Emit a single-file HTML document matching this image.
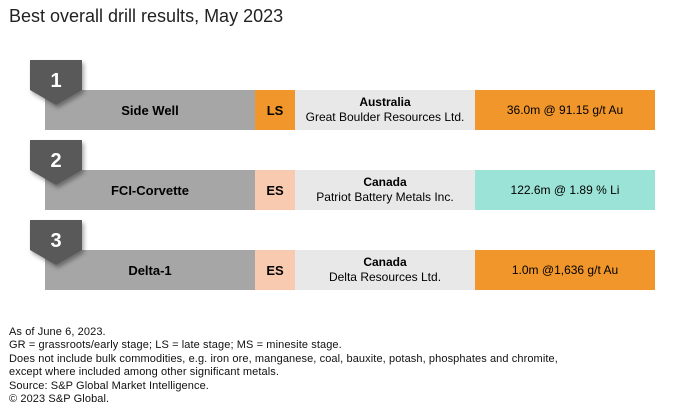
<!DOCTYPE html>
<html><head><meta charset="utf-8"><style>
body{margin:0;width:685px;height:415px;background:#fff;font-family:"Liberation Sans",sans-serif;position:relative;overflow:hidden;color:#000}
.t{position:absolute;left:9px;top:6px;font-size:18px;color:#222}
.bar{position:absolute;height:40px;display:flex;align-items:center;justify-content:center;text-align:center;font-size:12px;line-height:15px}
.badge{position:absolute;left:30px;width:52px;height:46px}
.foot{position:absolute;left:9px;top:326px;font-size:11px;line-height:13.4px;color:#111;white-space:nowrap;letter-spacing:0.1px}
</style></head><body>
<div class="t">Best overall drill results, May 2023</div>
<div id="rows"></div>
<div class="foot">As of June 6, 2023.<br>GR = grassroots/early stage; LS = late stage; MS = minesite stage.<br>Does not include bulk commodities, e.g. iron ore, manganese, coal, bauxite, potash, phosphates and chromite,<br>except where included among other significant metals.<br>Source: S&amp;P Global Market Intelligence.<br>© 2023 S&amp;P Global.</div>
<script>
const ranks=["1","2","3"];
const projects=["Side Well","FCI-Corvette","Delta-1"];
const stages=["LS","ES","ES"];
const countries=["Australia","Canada","Canada"];
const companies=["Great Boulder Resources Ltd.","Patriot Battery Metals Inc.","Delta Resources Ltd."];
const results=["36.0m @ 91.15 g/t Au","122.6m @ 1.89 % Li","1.0m @1,636 g/t Au"];
const resultColors=["#f0962a","#9be3d6","#f0962a"];
const stageColor={LS:"#f0962a",ES:"#f8cbb0"};
const root=document.getElementById('rows');
function mk(cls,x,y,w,bg,html){const d=document.createElement('div');d.className=cls;d.style.left=x+'px';d.style.top=y+'px';d.style.width=w+'px';d.style.background=bg;d.innerHTML=html;root.appendChild(d);return d;}
ranks.forEach((r,i)=>{
 const y=90+i*80;
 let e=mk('bar',45,y,210,'#a6a6a6','<b style="font-size:13px">'+projects[i]+'</b>');
 
 
 e=mk('bar',255,y,40,stageColor[stages[i]],'<b style="font-size:13px">'+stages[i]+'</b>');
 
 
 e=mk('bar',295,y,180,'#e8e8e8','<div><b>'+countries[i]+'</b><br>'+companies[i]+'</div>');
 
 
 e=mk('bar',475,y,180,resultColors[i],results[i]);
 
 
 const b=document.createElement('div');b.className='badge';b.style.top=(y-30)+'px';
 b.innerHTML='<svg width="52" height="46" style="overflow:visible"><polygon points="0,0 52,0 52,30 26,45 0,30" fill="#595959" style="filter:drop-shadow(2px 3px 2px rgba(0,0,0,.35))"/><text x="26" y="27" text-anchor="middle" fill="#fff" font-size="20" font-weight="bold" font-family="Liberation Sans, sans-serif">'+r+'</text></svg>';
 
 
 root.appendChild(b);
});
</script>
</body></html>
